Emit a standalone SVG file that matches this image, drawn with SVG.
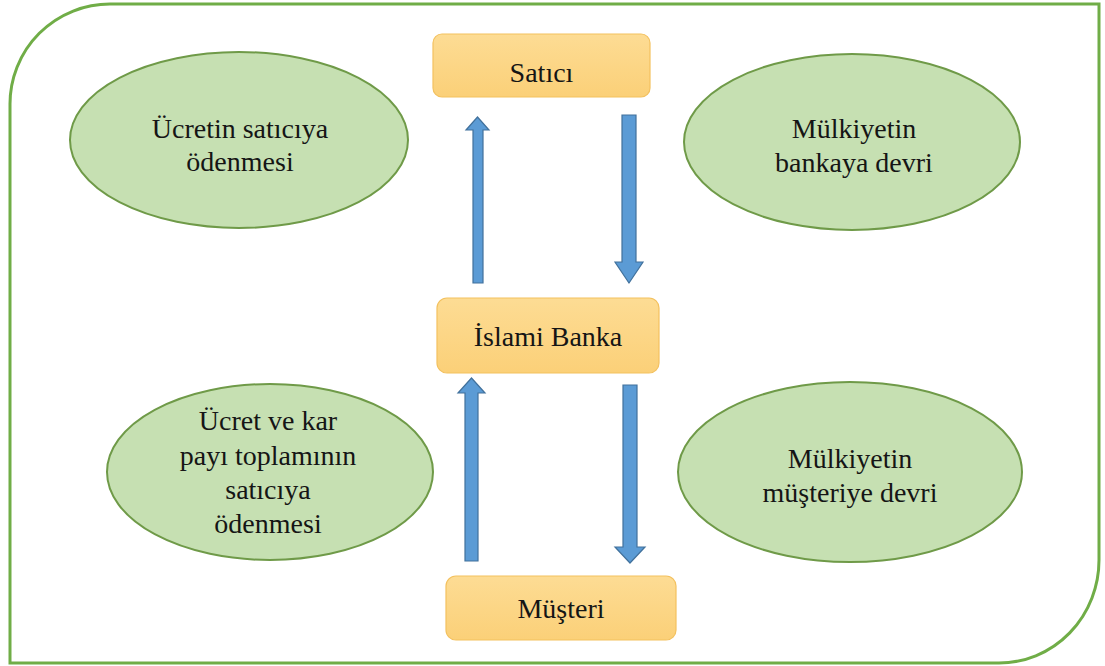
<svg xmlns="http://www.w3.org/2000/svg" width="1105" height="666" viewBox="0 0 1105 666">
<defs>
<linearGradient id="boxg" x1="0" y1="0" x2="0" y2="1">
<stop offset="0" stop-color="#fddc94"/>
<stop offset="1" stop-color="#fbd078"/>
</linearGradient>
<style>
.box{fill:url(#boxg);stroke:#f3c15f;stroke-width:1.2}
.ell{fill:#c6e0b2;stroke:#6f9a48;stroke-width:2}
.arr{fill:#5b9bd5;stroke:#41719c;stroke-width:1.2}
.t{font-family:'Liberation Serif','Times New Roman',serif;font-size:28px;fill:#151515;text-anchor:middle}
</style>
</defs>
<rect width="1105" height="666" fill="#ffffff"/>
<path id="frame" d="M 110 4 H 1099 V 560 A 100 103 0 0 1 999 663 H 10 V 104 A 100 100 0 0 1 110 4 Z" fill="#ffffff" stroke="#70ad47" stroke-width="3"/>
<g id="connectors">
<polygon class="arr" points="473,283 483,283 483,130 489,130 477.5,117 466,130 473,130"/>
<polygon class="arr" points="622,115 636,115 636,262 643,262 629,283 615,262 622,262"/>
<polygon class="arr" points="465,561 478,561 478,393 485,393 471.5,378 458,393 465,393"/>
<polygon class="arr" points="623,385 637,385 637,547 645,547 630,563 615,547 623,547"/>
</g>
<g id="satici">
<rect class="box" x="433" y="34" width="217" height="63" rx="9"/>
<text class="t" x="541.5" y="82">Satıcı</text>
</g>
<g id="islami-banka">
<rect class="box" x="437" y="298" width="222" height="75" rx="10"/>
<text class="t" x="548" y="346">İslami Banka</text>
</g>
<g id="musteri">
<rect class="box" x="446" y="576" width="230" height="64" rx="10"/>
<text class="t" x="561" y="618">Müşteri</text>
</g>
<g id="ucretin-saticiya">
<ellipse class="ell" cx="239" cy="140" rx="169" ry="88"/>
<text class="t" x="240" y="138">Ücretin satıcıya</text>
<text class="t" x="240" y="171">ödenmesi</text>
</g>
<g id="mulkiyetin-bankaya">
<ellipse class="ell" cx="852" cy="142" rx="168" ry="88"/>
<text class="t" x="854" y="138">Mülkiyetin</text>
<text class="t" x="854" y="172">bankaya devri</text>
</g>
<g id="ucret-ve-kar">
<ellipse class="ell" cx="270" cy="472" rx="163" ry="88"/>
<text class="t" x="268" y="430">Ücret ve kar</text>
<text class="t" x="268" y="465">payı toplamının</text>
<text class="t" x="268" y="499">satıcıya</text>
<text class="t" x="268" y="533">ödenmesi</text>
</g>
<g id="mulkiyetin-musteriye">
<ellipse class="ell" cx="850" cy="472" rx="172" ry="90"/>
<text class="t" x="850" y="468">Mülkiyetin</text>
<text class="t" x="850" y="502">müşteriye devri</text>
</g>
</svg>
